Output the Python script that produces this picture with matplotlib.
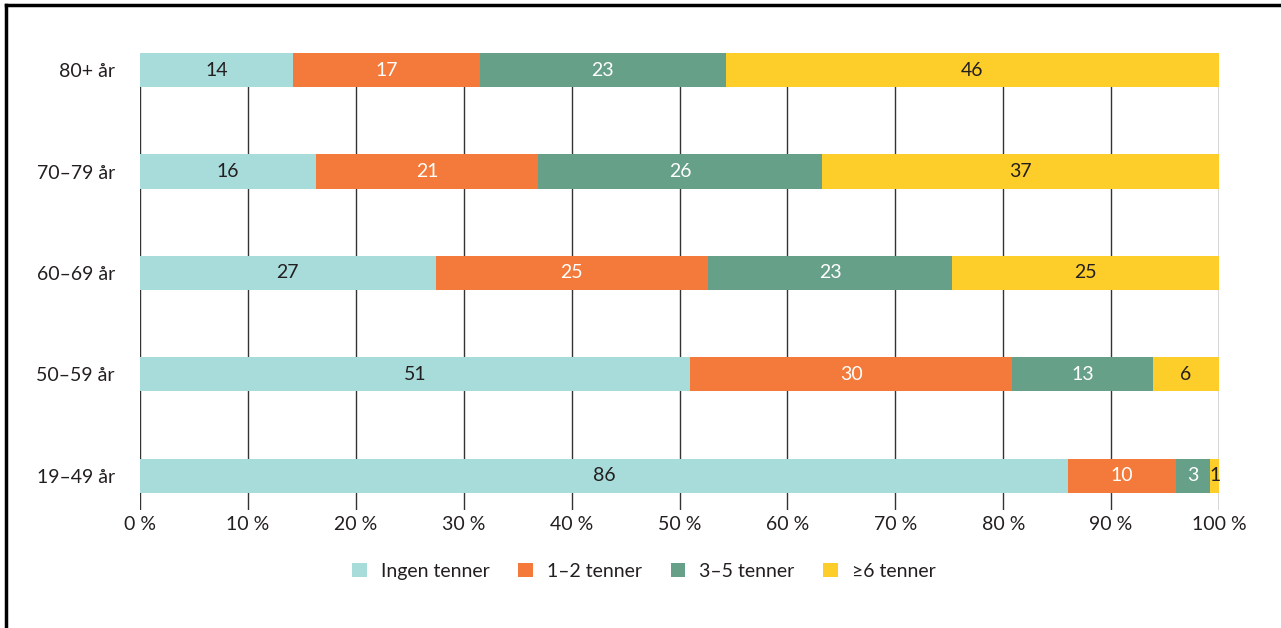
import numpy as np
import matplotlib.pyplot as plt
from matplotlib.lines import Line2D

# Age groups, bottom to top
groups = ["19–49 år", "50–59 år", "60–69 år", "70–79 år", "80+ år"]
series = ["Ingen tenner", "1–2 tenner", "3–5 tenner", "≥6 tenner"]

ingen = [86.0, 51.0, 27.4, 16.3, 14.2]
en_to = [10.0, 29.8, 25.2, 20.6, 17.3]
tre_fem = [3.2, 13.1, 22.7, 26.3, 22.8]
seks = [0.8, 6.1, 24.7, 36.8, 45.7]

colors = ["#A8DCDB", "#F37A3A", "#67A088", "#FDCD2A"]
text_colors = ["#231f20", "white", "white", "#231f20"]

plt.rcParams['font.family'] = ['Lato', 'DejaVu Sans']
fs = 14

fig = plt.figure(figsize=(12.81, 6.28), dpi=100)
ax = fig.add_axes([140/1281, 1 - 510/628, (1219 - 140)/1281, (510 - 53)/628])

y = np.arange(len(groups))
h = 0.335
left = np.zeros(len(groups))
for vals, name, col, tcol in zip([ingen, en_to, tre_fem, seks], series, colors, text_colors):
    vals = np.array(vals)
    ax.barh(y, vals, left=left, height=h, color=col, label=name, zorder=3, linewidth=0)
    for yi, l, v in zip(y, left, vals):
        ax.text(l + v/2, yi, "%d" % round(v), ha='center', va='center',
                color=tcol, fontsize=fs, zorder=4)
    left += vals

ax.set_xlim(0, 100)
ax.set_ylim(-h, 4 + h/2)
ax.set_xticks(range(0, 101, 10))
ax.set_xticklabels(["%d %%" % t for t in range(0, 101, 10)])
ax.set_yticks(y)
ax.set_yticklabels(groups)
ax.tick_params(length=0, labelsize=fs, labelcolor="#231f20")
ax.tick_params(axis='x', pad=4)
ax.tick_params(axis='y', pad=18)
ax.xaxis.grid(True, color="#333333", linewidth=1, zorder=0)
ax.set_axisbelow(True)
for s in ax.spines.values():
    s.set_visible(False)

ax.legend(loc='upper center', bbox_to_anchor=(0.467, -0.078), ncol=4, frameon=False,
          fontsize=fs, handlelength=0.75, handleheight=0.75, handletextpad=0.7,
          columnspacing=1.5, labelcolor="#231f20")

# frame lines at top and left of the picture
fig.add_artist(Line2D([6/1281, 1], [1 - 5/628, 1 - 5/628], color='black', linewidth=2.5))
fig.add_artist(Line2D([6/1281, 6/1281], [0, 1 - 5/628], color='black', linewidth=2.5))

fig.savefig("out.png", dpi=100)
